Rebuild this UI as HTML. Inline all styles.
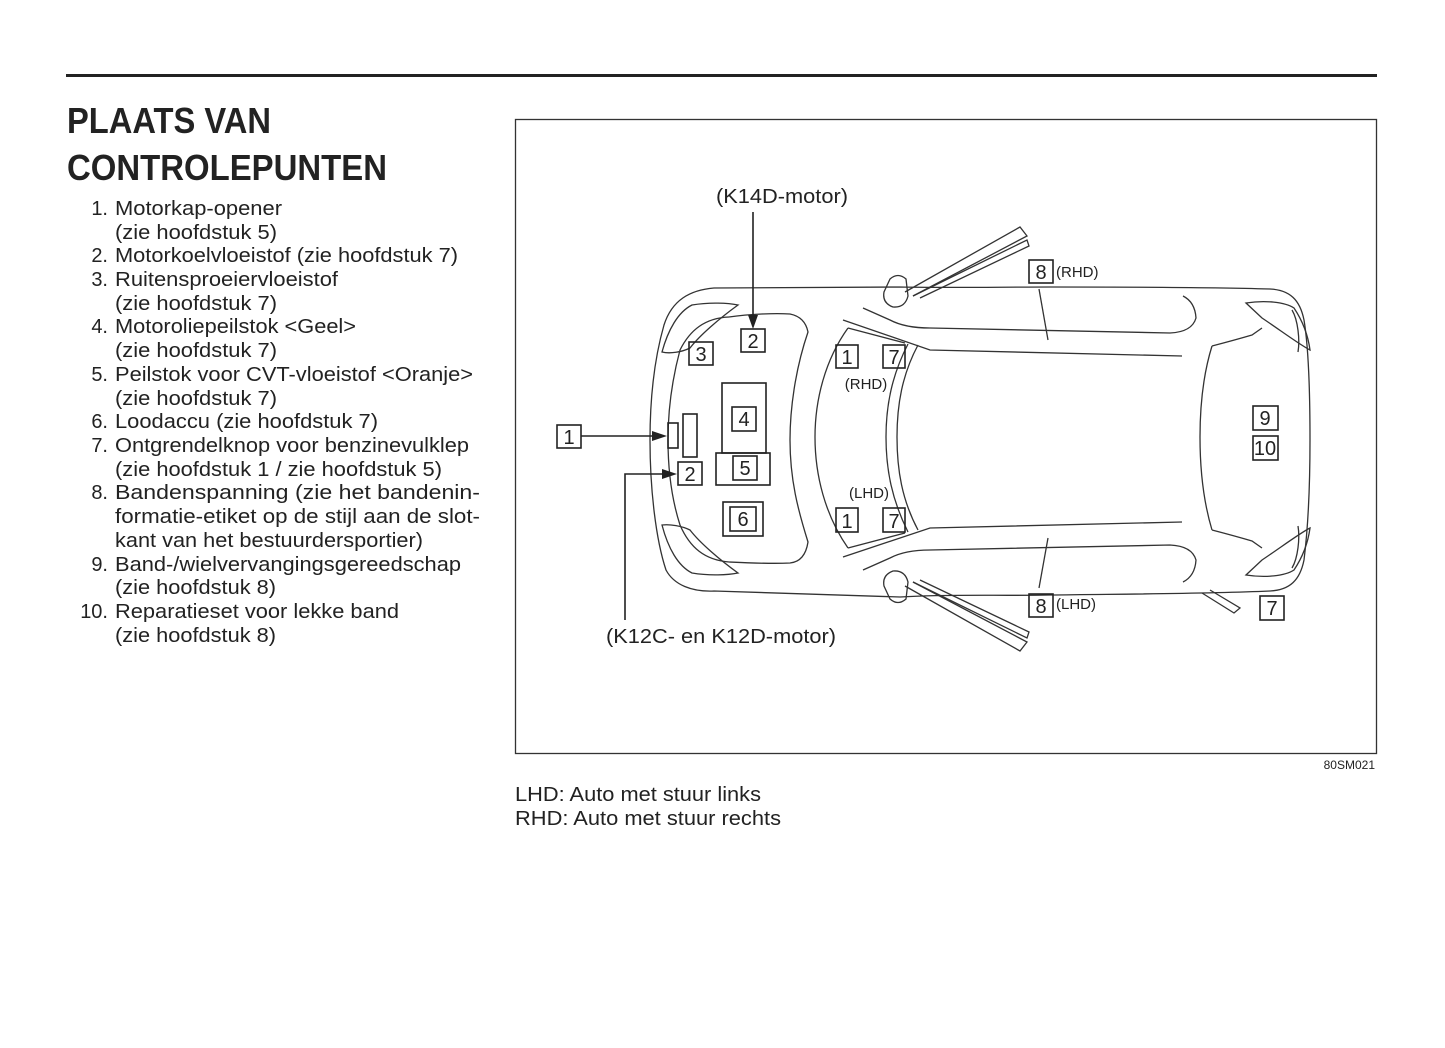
<!DOCTYPE html>
<html><head><meta charset="utf-8"><style>
html,body{margin:0;padding:0;background:#fff;}
svg{display:block;}
text{font-family:"Liberation Sans",Arial,sans-serif;fill:#222;}
</style></head><body>
<svg width="1445" height="1048" viewBox="0 0 1445 1048" xmlns="http://www.w3.org/2000/svg">
<rect x="66" y="74" width="1311" height="3" fill="#222"/>
<text x="67" y="133" font-size="36" font-weight="bold" textLength="204" lengthAdjust="spacingAndGlyphs">PLAATS VAN</text>
<text x="67" y="180" font-size="36" font-weight="bold" textLength="320" lengthAdjust="spacingAndGlyphs">CONTROLEPUNTEN</text>
<g font-size="20">
<text x="108" y="215" text-anchor="end">1.</text><text x="115" y="215" textLength="167" lengthAdjust="spacingAndGlyphs">Motorkap-opener</text>
<text x="115" y="239" textLength="162" lengthAdjust="spacingAndGlyphs">(zie hoofdstuk 5)</text>
<text x="108" y="262" text-anchor="end">2.</text><text x="115" y="262" textLength="343" lengthAdjust="spacingAndGlyphs">Motorkoelvloeistof (zie hoofdstuk 7)</text>
<text x="108" y="286" text-anchor="end">3.</text><text x="115" y="286" textLength="223" lengthAdjust="spacingAndGlyphs">Ruitensproeiervloeistof</text>
<text x="115" y="310" textLength="162" lengthAdjust="spacingAndGlyphs">(zie hoofdstuk 7)</text>
<text x="108" y="333" text-anchor="end">4.</text><text x="115" y="333" textLength="241" lengthAdjust="spacingAndGlyphs">Motoroliepeilstok &lt;Geel&gt;</text>
<text x="115" y="357" textLength="162" lengthAdjust="spacingAndGlyphs">(zie hoofdstuk 7)</text>
<text x="108" y="381" text-anchor="end">5.</text><text x="115" y="381" textLength="358" lengthAdjust="spacingAndGlyphs">Peilstok voor CVT-vloeistof &lt;Oranje&gt;</text>
<text x="115" y="405" textLength="162" lengthAdjust="spacingAndGlyphs">(zie hoofdstuk 7)</text>
<text x="108" y="428" text-anchor="end">6.</text><text x="115" y="428" textLength="263" lengthAdjust="spacingAndGlyphs">Loodaccu (zie hoofdstuk 7)</text>
<text x="108" y="452" text-anchor="end">7.</text><text x="115" y="452" textLength="354" lengthAdjust="spacingAndGlyphs">Ontgrendelknop voor benzinevulklep</text>
<text x="115" y="476" textLength="327" lengthAdjust="spacingAndGlyphs">(zie hoofdstuk 1 / zie hoofdstuk 5)</text>
<text x="108" y="499" text-anchor="end">8.</text><text x="115" y="499" textLength="365" lengthAdjust="spacingAndGlyphs">Bandenspanning (zie het bandenin-</text>
<text x="115" y="523" textLength="365" lengthAdjust="spacingAndGlyphs">formatie-etiket op de stijl aan de slot-</text>
<text x="115" y="547" textLength="308" lengthAdjust="spacingAndGlyphs">kant van het bestuurdersportier)</text>
<text x="108" y="571" text-anchor="end">9.</text><text x="115" y="571" textLength="346" lengthAdjust="spacingAndGlyphs">Band-/wielvervangingsgereedschap</text>
<text x="115" y="594" textLength="161" lengthAdjust="spacingAndGlyphs">(zie hoofdstuk 8)</text>
<text x="108" y="618" text-anchor="end">10.</text><text x="115" y="618" textLength="284" lengthAdjust="spacingAndGlyphs">Reparatieset voor lekke band</text>
<text x="115" y="642" textLength="161" lengthAdjust="spacingAndGlyphs">(zie hoofdstuk 8)</text>
</g>

<rect x="515.5" y="119.5" width="861" height="634" fill="none" stroke="#333" stroke-width="1.3"/>
<text x="1375" y="769" font-size="12" text-anchor="end">80SM021</text>
<text x="515" y="801" font-size="20" textLength="246" lengthAdjust="spacingAndGlyphs">LHD: Auto met stuur links</text>
<text x="515" y="825" font-size="20" textLength="266" lengthAdjust="spacingAndGlyphs">RHD: Auto met stuur rechts</text>

<g fill="none" stroke="#333" stroke-width="1.3">
<path d="M714,288 C690,290 672,300 664,325 C654,360 650,400 650,440 C650,490 656,540 666,570 C674,585 692,592 714,591 L900,597 C950,594 1000,596 1050,595 C1120,594 1200,594 1270,591 C1290,590 1300,580 1304,560 C1309,520 1310,480 1310,440 C1310,400 1309,350 1304,320 C1300,300 1290,290 1270,289 C1200,287 1120,287 1050,287 C1000,287 950,288 900,287 Z"/>
<path d="M729,317 C750,314 775,313 790,314 C800,316 806,322 808,332 C795,370 790,410 790,440 C790,480 798,510 808,542 C806,555 800,562 790,563 C770,564 750,563 729,562"/>
<path d="M729,317 C705,318 690,330 680,350 C672,380 668,410 668,440 C668,470 672,500 680,525 C690,548 705,560 729,562"/>
<path d="M662,352 C668,330 678,312 692,305 C710,302 728,303 738,305 C720,318 700,335 690,348 C682,352 670,354 662,352 Z"/>
<path d="M662,525 C668,548 678,566 692,573 C710,576 728,575 738,573 C720,560 700,543 690,530 C682,526 670,524 662,525 Z"/>
<path d="M848,328 C825,360 815,400 815,437 C815,475 825,515 848,548"/>
<path d="M848,328 L905,343"/>
<path d="M848,548 L905,533"/>
<path d="M908,344 C892,375 886,405 886,437 C886,470 892,500 908,532"/>
<path d="M918,345 C902,375 897,405 897,437 C897,470 902,500 918,530"/>
<path d="M843,320 L930,350 L1182,356"/>
<path d="M843,557 L930,528 L1182,522"/>
<path d="M863,308 L890,320 Q905,328 930,328 L1170,333 Q1192,332 1196,318 Q1195,302 1183,296"/>
<path d="M863,570 L890,558 Q905,550 930,550 L1170,545 Q1192,546 1196,560 Q1195,576 1183,582"/>
<path d="M1039,289 L1048,340"/>
<path d="M1048,538 L1039,588"/>
<path d="M1212,346 C1203,375 1200,405 1200,437 C1200,470 1203,500 1212,530"/>
<path d="M1212,346 Q1235,340 1252,335 L1262,328"/>
<path d="M1212,530 Q1235,536 1252,541 L1262,548"/>
<path d="M1246,303 C1265,300 1285,302 1294,308 C1302,320 1308,335 1310,350 C1300,345 1280,330 1262,318 Z"/>
<path d="M1246,575 C1265,578 1285,576 1294,570 C1302,558 1308,543 1310,528 C1300,533 1280,548 1262,560 Z"/>
<path d="M1292,310 C1298,320 1300,340 1298,352"/>
<path d="M1292,568 C1298,558 1300,538 1298,526"/>
<path d="M890,279 Q898,272 906,279 L908,296 Q905,308 893,307 Q882,303 884,292 Z"/>
<path d="M890,599 Q898,606 906,599 L908,582 Q905,570 893,571 Q882,575 884,586 Z"/>
<path d="M905,292 L1020,227 L1027,236 L913,296"/>
<path d="M913,296 L1027,240 L1029,246 L920,298"/>
<path d="M905,586 L1020,651 L1027,642 L913,582"/>
<path d="M913,582 L1027,638 L1029,632 L920,580"/>
<path d="M1202,593 L1234,613 L1240,608 L1210,590"/>
</g>

<g fill="none" stroke="#222" stroke-width="1.6">
<rect x="741" y="329" width="24" height="23"/>
<rect x="689" y="342" width="24" height="23"/>
<rect x="557" y="425" width="24" height="23"/>
<rect x="668" y="423" width="10" height="25"/>
<rect x="683" y="414" width="14" height="43"/>
<rect x="722" y="383" width="44" height="70"/>
<rect x="732" y="407" width="24" height="24"/>
<rect x="716" y="453" width="54" height="32"/>
<rect x="733" y="456" width="24" height="24"/>
<rect x="678" y="462" width="24" height="23"/>
<rect x="723" y="502" width="40" height="34"/>
<rect x="730" y="507" width="26" height="24"/>
<rect x="836" y="345" width="22" height="23"/>
<rect x="883" y="345" width="22" height="23"/>
<rect x="836" y="508" width="22" height="24"/>
<rect x="883" y="508" width="22" height="24"/>
<rect x="1029" y="260" width="24" height="23"/>
<rect x="1029" y="594" width="24" height="23"/>
<rect x="1253" y="406" width="25" height="24"/>
<rect x="1253" y="436" width="25" height="24"/>
<rect x="1260" y="596" width="24" height="24"/>
<path d="M753,212 L753,318"/>
<path d="M581,436 L655,436"/>
<path d="M625,620 L625,474 L665,474"/>
</g>
<g fill="#222">
<path d="M748,315 L758,315 L753,329 Z"/>
<path d="M652,431 L652,441 L667,436 Z"/>
<path d="M662,469 L662,479 L677,474 Z"/>
</g>

<g font-size="20" text-anchor="middle">
<text x="753" y="348">2</text>
<text x="701" y="361">3</text>
<text x="569" y="444">1</text>
<text x="744" y="426">4</text>
<text x="745" y="475">5</text>
<text x="690" y="481">2</text>
<text x="743" y="526">6</text>
<text x="847" y="364">1</text>
<text x="894" y="364">7</text>
<text x="847" y="528">1</text>
<text x="894" y="528">7</text>
<text x="1041" y="279">8</text>
<text x="1041" y="613">8</text>
<text x="1265" y="425">9</text>
<text x="1265" y="455">10</text>
<text x="1272" y="615">7</text>
</g>
<g font-size="15">
<text x="866" y="389" text-anchor="middle">(RHD)</text>
<text x="869" y="498" text-anchor="middle">(LHD)</text>
<text x="1056" y="277">(RHD)</text>
<text x="1056" y="609">(LHD)</text>
</g>
<text x="716" y="203" font-size="20" textLength="132" lengthAdjust="spacingAndGlyphs">(K14D-motor)</text>
<text x="606" y="643" font-size="20" textLength="230" lengthAdjust="spacingAndGlyphs">(K12C- en K12D-motor)</text>
</svg>
</body></html>
